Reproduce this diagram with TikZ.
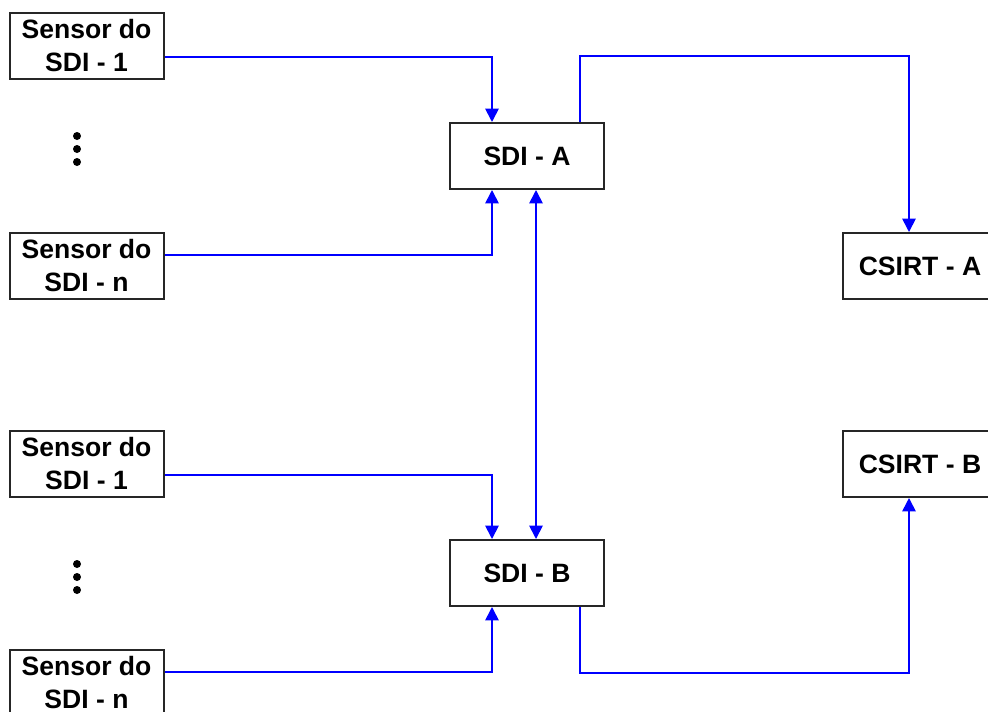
\documentclass[tikz,border=0pt]{standalone}
\usepackage{fontspec}
\setmainfont{Liberation Sans}
\usepackage{tikz}
\usetikzlibrary{arrows.meta}
\usetikzlibrary{positioning}
\tikzset{> = {Triangle[length = 10pt, width = 10pt]}, node distance = 114pt,
  bloco/.style = {draw = black!85, line width = 1.5pt, fill = white,
    minimum width = 115.5pt, minimum height = 49.5pt, inner sep = 0pt,
    align = center, font = \fontsize{19.9}{24.75}\selectfont\bfseries},
  seta/.style = {->, draw = blue, line width = 1.3pt}}

\begin{document}
\begin{tikzpicture}[x = 0.75pt, y = -0.75pt]
    \useasboundingbox (0,0) rectangle (988,711);
    \fill [white] (0,0) rectangle (988,711);
    \node [bloco] (s1a) at (86.5,46) {Sensor do\\SDI - 1};
    \node [bloco, below = of s1a] (sna) {Sensor do\\SDI - n};
    \node [bloco, below = 97.5pt of sna] (s1b) {Sensor do\\SDI - 1};
    \node [bloco, below = 113.25pt of s1b] (snb) {Sensor do\\SDI - n};
    \node [bloco] (sdiA) at (527,156) {SDI - A};
    \node [bloco, below = 261.75pt of sdiA] (sdiB) {SDI - B};
    \node [bloco] (csirtA) at (920,266) {CSIRT - A};
    \node [bloco, below = 97.5pt of csirtA] (csirtB) {CSIRT - B};
    % dots
    \coordinate (pontosA) at (77,149);
    \coordinate (pontosB) at (77,577);
    \foreach \d in {-13,0,13} {
      \fill (pontosA) ++(0,\d) circle (3pt);
      \fill (pontosB) ++(0,\d) circle (3pt);
    }
    % paths
    \draw [seta] ([yshift = -8.25pt]s1a.east) -| ([xshift = -26.25pt]sdiA.north);
    \draw [seta] ([yshift = 8.25pt]sna.east) -| ([xshift = -26.25pt]sdiA.south);
    \draw [seta] ([yshift = -8.25pt]s1b.east) -| ([xshift = -26.25pt]sdiB.north);
    \draw [seta] ([yshift = 8.25pt]snb.east) -| ([xshift = -26.25pt]sdiB.south);
    \draw [seta, <->] ([xshift = 6.75pt]sdiA.south) -- ([xshift = 6.75pt]sdiB.north);
    \draw [seta] ([xshift = 39.75pt]sdiA.north) -- ++(0,-66) -| ([xshift = -8.25pt]csirtA.north);
    \draw [seta] ([xshift = 39.75pt]sdiB.south) -- ++(0,66) -| ([xshift = -8.25pt]csirtB.south);
\end{tikzpicture}
\end{document}
